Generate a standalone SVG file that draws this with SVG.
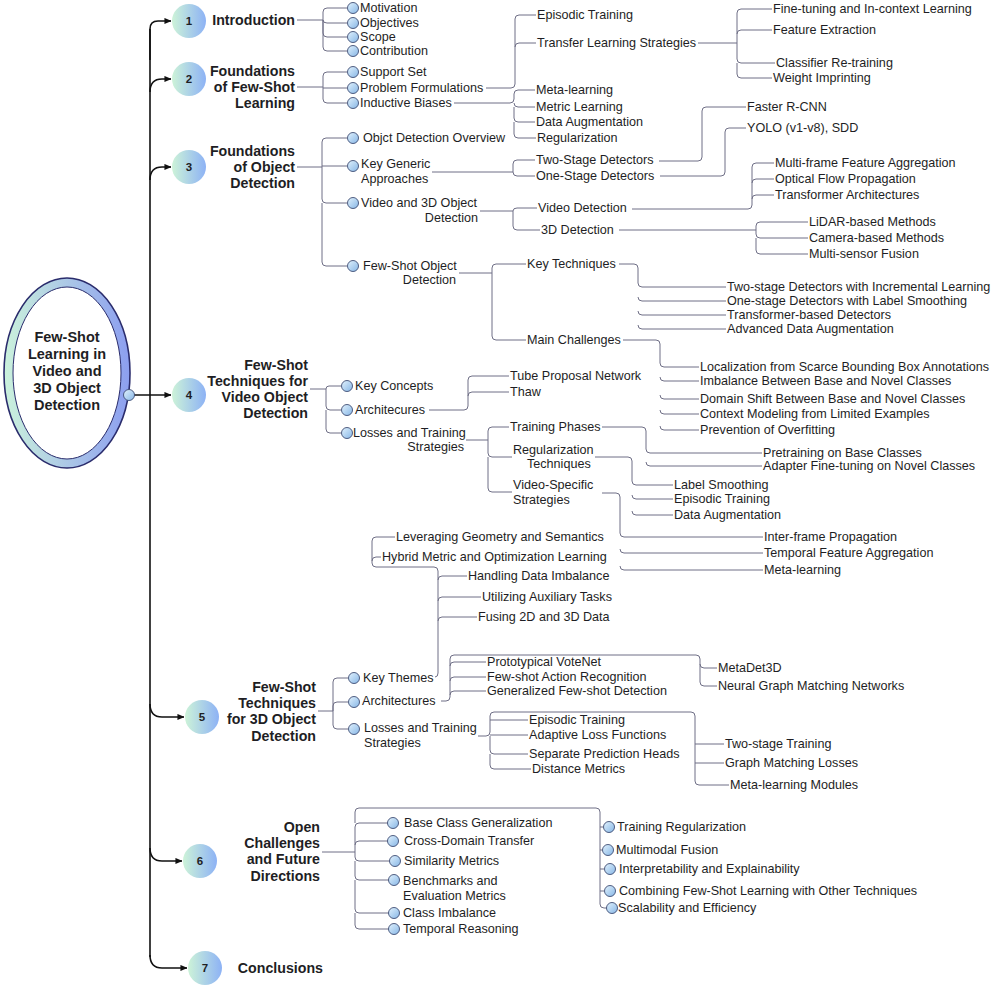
<svg xmlns="http://www.w3.org/2000/svg" width="1000" height="1000" viewBox="0 0 1000 1000">
<defs>
<linearGradient id="numG" x1="0" y1="0" x2="1" y2="0"><stop offset="0" stop-color="#cdf3d8"/><stop offset="1" stop-color="#8db2f5"/></linearGradient>
<linearGradient id="ringG" x1="0" y1="0" x2="1" y2="0"><stop offset="0" stop-color="#cbf2dc"/><stop offset="1" stop-color="#8c9ef0"/></linearGradient>
<linearGradient id="nodeG" x1="0" y1="0" x2="1" y2="1"><stop offset="0" stop-color="#e2f2fd"/><stop offset="1" stop-color="#86b6e6"/></linearGradient>
<marker id="ar" viewBox="0 0 8 8" refX="7.5" refY="4" markerUnits="userSpaceOnUse" markerWidth="7" markerHeight="7" orient="auto"><path d="M0 0.5 L8 4 L0 7.5 z" fill="#111"/></marker>
</defs>
<style>
text{font-family:"Liberation Sans",Arial,sans-serif;fill:#1e1e24;dominant-baseline:central}
.t{font-size:12.6px}
.h{font-size:14.2px;font-weight:bold;text-anchor:end}
.r{font-size:14.5px;font-weight:bold;text-anchor:middle}
.e{text-anchor:end}
.num{font-size:11.5px;font-weight:bold;text-anchor:middle}
.c{fill:none;stroke:#6f6f86;stroke-width:1}
.m{fill:none;stroke:#111;stroke-width:1.6}
.n{fill:url(#nodeG);stroke:#3e4d74;stroke-width:0.9}
.k{fill:url(#numG)}
</style>
<rect width="1000" height="1000" fill="#fff"/>

<g id="root">
<ellipse cx="67" cy="373" rx="63" ry="95" fill="url(#ringG)" stroke="#2a2c6c" stroke-width="1.6"/>
<ellipse cx="67" cy="373" rx="54" ry="86" fill="#fff" stroke="#2a2c6c" stroke-width="1"/>
<text class="r" x="67" y="337">Few-Shot</text>
<text class="r" x="67" y="354">Learning in</text>
<text class="r" x="67" y="371">Video and</text>
<text class="r" x="67" y="388">3D Object</text>
<text class="r" x="67" y="405">Detection</text>
</g>

<g id="main-connectors">
<path class="m" d="M150 60 V29 Q150 21 158 21 H171" marker-end="url(#ar)"/>
<path class="m" d="M150 92 Q150 79 162 79 H171" marker-end="url(#ar)"/>
<path class="m" d="M150 180 Q150 167 162 167 H171" marker-end="url(#ar)"/>
<path class="m" d="M129 395 H171" marker-end="url(#ar)"/>
<path class="m" d="M150 704 Q150 717 162 717 H184" marker-end="url(#ar)"/>
<path class="m" d="M150 848 Q150 861 162 861 H182" marker-end="url(#ar)"/>
<path class="m" d="M150 955 Q150 968 162 968 H187" marker-end="url(#ar)"/>
<path class="m" d="M150 29 V957"/>
</g>
<circle cx="129" cy="395" r="5.5" class="n"/>

<g id="connectors">
<path class="c" d="M297 20 H323 V12 Q323 8 327 8 H347"/>
<path class="c" d="M323 20 Q323 23 327 23 H347"/>
<path class="c" d="M323 20 V33 Q323 37 327 37 H347"/>
<path class="c" d="M323 20 V47 Q323 51 327 51 H347"/>
<path class="c" d="M297 87 H323 V76 Q323 72 327 72 H347"/>
<path class="c" d="M323 88 H347"/>
<path class="c" d="M323 87 V99 Q323 103 327 103 H347"/>
<path class="c" d="M486 88 H511 Q515 88 515 84 V19 Q515 15 519 15 H536"/>
<path class="c" d="M515 47 Q515 43 519 43 H536"/>
<path class="c" d="M454 103 H510 Q514 103 514 99 V94 Q514 90 518 90 H535"/>
<path class="c" d="M514 103 Q514 107 518 107 H535"/>
<path class="c" d="M514 107 V118 Q514 122 518 122 H535"/>
<path class="c" d="M514 122 V134 Q514 138 518 138 H536"/>
<path class="c" d="M698 43 H737 V13 Q737 9 741 9 H772"/>
<path class="c" d="M737 34 Q737 30 741 30 H772"/>
<path class="c" d="M737 43 V59 Q737 63 741 63 H775"/>
<path class="c" d="M737 63 V74 Q737 78 741 78 H772"/>
<path class="c" d="M297 167 H322 V142 Q322 138 326 138 H347"/>
<path class="c" d="M322 166 H347"/>
<path class="c" d="M322 167 V199 Q322 203 326 203 H347"/>
<path class="c" d="M322 203 V262 Q322 266 326 266 H347"/>
<path class="c" d="M432 172 H513 V164 Q513 160 517 160 H535"/>
<path class="c" d="M513 172 Q513 176 517 176 H535"/>
<path class="c" d="M659 161 H698 Q702 161 702 157 V111 Q702 107 706 107 H746"/>
<path class="c" d="M660 176 H721 Q725 176 725 172 V132 Q725 128 729 128 H746"/>
<path class="c" d="M480 211 H513 Q513 208 517 208 H537"/>
<path class="c" d="M513 211 V226 Q513 230 517 230 H540"/>
<path class="c" d="M632 209 H748 Q752 209 752 205 V167 Q752 163 756 163 H774"/>
<path class="c" d="M752 183 Q752 179 756 179 H774"/>
<path class="c" d="M752 199 Q752 195 756 195 H774"/>
<path class="c" d="M619 230 H756 V226 Q756 222 760 222 H808"/>
<path class="c" d="M756 230 V234 Q756 238 760 238 H808"/>
<path class="c" d="M756 238 V250 Q756 254 760 254 H808"/>
<path class="c" d="M459 273 H492 V268 Q492 264 496 264 H526"/>
<path class="c" d="M492 273 V336 Q492 340 496 340 H526"/>
<path class="c" d="M619 264 H634 Q638 264 638 268 V283 Q638 287 642 287 H726"/>
<path class="c" d="M638 297 Q638 301 642 301 H726"/>
<path class="c" d="M638 311 Q638 315 642 315 H726"/>
<path class="c" d="M638 325 Q638 329 642 329 H726"/>
<path class="c" d="M623 340 H656 Q660 340 660 344 V363 Q660 367 664 367 H699"/>
<path class="c" d="M660 377 Q660 381 664 381 H699"/>
<path class="c" d="M660 395 Q660 399 664 399 H699"/>
<path class="c" d="M660 410 Q660 414 664 414 H699"/>
<path class="c" d="M660 426 Q660 430 664 430 H699"/>
<path class="c" d="M310 389 H326 Q326 386 329 386 H341"/>
<path class="c" d="M326 389 V406 Q326 410 330 410 H341"/>
<path class="c" d="M326 410 V429 Q326 433 330 433 H341"/>
<path class="c" d="M429 410 H464 Q468 410 468 406 V380 Q468 376 472 376 H509"/>
<path class="c" d="M468 396 Q468 392 472 392 H509"/>
<path class="c" d="M466 440 H488 V431 Q488 427 492 427 H509"/>
<path class="c" d="M488 440 V453 Q488 457 492 457 H512"/>
<path class="c" d="M488 457 V488 Q488 492 492 492 H512"/>
<path class="c" d="M602 427 H642 Q646 427 646 431 V449 Q646 453 650 453 H762"/>
<path class="c" d="M646 462 Q646 466 650 466 H762"/>
<path class="c" d="M595 457 H628 Q632 457 632 461 V481 Q632 485 636 485 H673"/>
<path class="c" d="M632 495 Q632 499 636 499 H673"/>
<path class="c" d="M632 511 Q632 515 636 515 H673"/>
<path class="c" d="M602 493 H616 Q620 493 620 497 V533 Q620 537 624 537 H763"/>
<path class="c" d="M620 549 Q620 553 624 553 H763"/>
<path class="c" d="M620 566 Q620 570 624 570 H763"/>
<path class="c" d="M318 711 H333"/>
<path class="c" d="M333 711 V682 Q333 678 337 678 H348"/>
<path class="c" d="M333 711 V706 Q333 702 337 702 H348"/>
<path class="c" d="M333 711 V725 Q333 729 337 729 H348"/>
<path class="c" d="M435 677 Q438 677 438 673 V571 Q438 567 434 567 H376 Q372 567 372 563 V541 Q372 537 376 537 H395"/>
<path class="c" d="M372 561 Q372 557 376 557 H381"/>
<path class="c" d="M438 580 Q438 576 442 576 H467"/>
<path class="c" d="M438 601 Q438 597 442 597 H481"/>
<path class="c" d="M438 621 Q438 617 442 617 H477"/>
<path class="c" d="M441 701 H446 Q450 701 450 697 V659 Q450 655 454 655 H696 Q700 655 700 659 V682 Q700 686 704 686 H717"/>
<path class="c" d="M450 666 Q450 662 454 662 H486"/>
<path class="c" d="M450 681 Q450 677 454 677 H486"/>
<path class="c" d="M450 695 Q450 691 454 691 H486"/>
<path class="c" d="M700 664 Q700 668 704 668 H717"/>
<path class="c" d="M478 736 H486 Q490 736 490 732 V716 Q490 712 494 712 H691 Q695 712 695 716 V781 Q695 785 699 785 H729"/>
<path class="c" d="M490 720 H528"/>
<path class="c" d="M490 735 H528"/>
<path class="c" d="M490 736 V750 Q490 754 494 754 H528"/>
<path class="c" d="M490 754 V765 Q490 769 494 769 H531"/>
<path class="c" d="M695 744 H724"/>
<path class="c" d="M695 763 H724"/>
<path class="c" d="M322 852 H355"/>
<path class="c" d="M355 852 V827 Q355 823 359 823 H388"/>
<path class="c" d="M355 845 Q355 841 359 841 H388"/>
<path class="c" d="M355 852 V857 Q355 861 359 861 H390"/>
<path class="c" d="M355 861 V876 Q355 880 359 880 H389"/>
<path class="c" d="M355 880 V909 Q355 913 359 913 H389"/>
<path class="c" d="M355 913 V925 Q355 929 359 929 H389"/>
<path class="c" d="M355 823 V812 Q355 808 359 808 H596 Q600 808 600 812 V904 Q600 908 604 908 H607"/>
<path class="c" d="M600 827 H603"/>
<path class="c" d="M600 850 H602"/>
<path class="c" d="M600 869 H604"/>
<path class="c" d="M600 891 H604"/>
</g>

<g id="s1"><circle class="k" cx="189" cy="21" r="17"/><text class="num" x="189" y="21">1</text><text class="h" x="295" y="20">Introduction</text></g>
<g id="s2"><circle class="k" cx="189" cy="79" r="17"/><text class="num" x="189" y="79">2</text><text class="h" x="295" y="71">Foundations</text><text class="h" x="295" y="87">of Few-Shot</text><text class="h" x="295" y="103">Learning</text></g>
<g id="s3"><circle class="k" cx="189" cy="167" r="17"/><text class="num" x="189" y="167">3</text><text class="h" x="295" y="151">Foundations</text><text class="h" x="295" y="167">of Object</text><text class="h" x="295" y="183">Detection</text></g>
<g id="s4"><circle class="k" cx="189" cy="395" r="17"/><text class="num" x="189" y="395">4</text><text class="h" x="308" y="365">Few-Shot</text><text class="h" x="308" y="381">Techniques for</text><text class="h" x="308" y="397">Video Object</text><text class="h" x="308" y="413">Detection</text></g>
<g id="s5"><circle class="k" cx="202" cy="717" r="17"/><text class="num" x="202" y="717">5</text><text class="h" x="316" y="687">Few-Shot</text><text class="h" x="316" y="703">Techniques</text><text class="h" x="316" y="719">for 3D Object</text><text class="h" x="316" y="736">Detection</text></g>
<g id="s6"><circle class="k" cx="200" cy="861" r="17"/><text class="num" x="200" y="861">6</text><text class="h" x="320" y="827">Open</text><text class="h" x="320" y="843">Challenges</text><text class="h" x="320" y="859">and Future</text><text class="h" x="320" y="876">Directions</text></g>
<g id="s7"><circle class="k" cx="205" cy="968" r="17"/><text class="num" x="205" y="968">7</text><text class="h" x="323" y="968">Conclusions</text></g>

<g id="n-motivation"><circle class="n" cx="353" cy="8" r="5.5"/><text class="t" x="360" y="8">Motivation</text></g>
<g id="n-objectives"><circle class="n" cx="353" cy="23" r="5.5"/><text class="t" x="360" y="23">Objectives</text></g>
<g id="n-scope"><circle class="n" cx="353" cy="37" r="5.5"/><text class="t" x="360" y="37">Scope</text></g>
<g id="n-contribution"><circle class="n" cx="353" cy="51" r="5.5"/><text class="t" x="360" y="51">Contribution</text></g>

<g id="n-support"><circle class="n" cx="353" cy="72" r="5.5"/><text class="t" x="360" y="72">Support Set</text></g>
<g id="n-problem"><circle class="n" cx="353" cy="88" r="5.5"/><text class="t" x="360" y="88">Problem Formulations</text></g>
<g id="n-inductive"><circle class="n" cx="353" cy="103" r="5.5"/><text class="t" x="360" y="103">Inductive Biases</text></g>
<g id="n-episodic1"><text class="t" x="537" y="15">Episodic Training</text></g>
<g id="n-transfer"><text class="t" x="537" y="43">Transfer Learning Strategies</text></g>
<g id="n-metalearn1"><text class="t" x="536" y="90">Meta-learning</text></g>
<g id="n-metric"><text class="t" x="536" y="107">Metric Learning</text></g>
<g id="n-dataaug1"><text class="t" x="536" y="122">Data Augmentation</text></g>
<g id="n-regul1"><text class="t" x="537" y="138">Regularization</text></g>
<g id="n-finetune"><text class="t" x="773" y="9">Fine-tuning and In-context Learning</text></g>
<g id="n-featext"><text class="t" x="773" y="30">Feature Extraction</text></g>
<g id="n-classifier"><text class="t" x="776" y="63">Classifier Re-training</text></g>
<g id="n-weight"><text class="t" x="773" y="78">Weight Imprinting</text></g>

<g id="n-odo"><circle class="n" cx="353" cy="138" r="5.5"/><text class="t" x="363" y="138">Objct Detection Overview</text></g>
<g id="n-kga"><circle class="n" cx="353" cy="166" r="5.5"/><text class="t" x="361" y="164">Key Generic</text><text class="t" x="361" y="179">Approaches</text></g>
<g id="n-v3d"><circle class="n" cx="353" cy="203" r="5.5"/><text class="t" x="361" y="203">Video and 3D Object</text><text class="t e" x="478" y="218">Detection</text></g>
<g id="n-fsod"><circle class="n" cx="353" cy="266" r="5.5"/><text class="t" x="363" y="266">Few-Shot Object</text><text class="t e" x="456" y="280">Detection</text></g>
<g id="n-twostage"><text class="t" x="536" y="160">Two-Stage Detectors</text></g>
<g id="n-onestage"><text class="t" x="536" y="176">One-Stage Detectors</text></g>
<g id="n-frcnn"><text class="t" x="747" y="107">Faster R-CNN</text></g>
<g id="n-yolo"><text class="t" x="747" y="128">YOLO (v1-v8), SDD</text></g>
<g id="n-videodet"><text class="t" x="538" y="208">Video Detection</text></g>
<g id="n-3ddet"><text class="t" x="541" y="230">3D Detection</text></g>
<g id="n-mffa"><text class="t" x="775" y="163">Multi-frame Feature Aggregation</text></g>
<g id="n-ofp"><text class="t" x="775" y="179">Optical Flow Propagation</text></g>
<g id="n-ta"><text class="t" x="775" y="195">Transformer Architectures</text></g>
<g id="n-lidar"><text class="t" x="809" y="222">LiDAR-based Methods</text></g>
<g id="n-camera"><text class="t" x="809" y="238">Camera-based Methods</text></g>
<g id="n-msf"><text class="t" x="809" y="254">Multi-sensor Fusion</text></g>
<g id="n-keytech"><text class="t" x="527" y="264">Key Techniques</text></g>
<g id="n-mainch"><text class="t" x="527" y="340">Main Challenges</text></g>
<g id="n-kt1"><text class="t" x="727" y="287">Two-stage Detectors with Incremental Learning</text></g>
<g id="n-kt2"><text class="t" x="727" y="301">One-stage Detectors with Label Smoothing</text></g>
<g id="n-kt3"><text class="t" x="727" y="315">Transformer-based Detectors</text></g>
<g id="n-kt4"><text class="t" x="727" y="329">Advanced Data Augmentation</text></g>
<g id="n-mc1"><text class="t" x="700" y="367">Localization from Scarce Bounding Box Annotations</text></g>
<g id="n-mc2"><text class="t" x="700" y="381">Imbalance Between Base and Novel Classes</text></g>
<g id="n-mc3"><text class="t" x="700" y="399">Domain Shift Between Base and Novel Classes</text></g>
<g id="n-mc4"><text class="t" x="700" y="414">Context Modeling from Limited Examples</text></g>
<g id="n-mc5"><text class="t" x="700" y="430">Prevention of Overfitting</text></g>

<g id="n-keyconcepts"><circle class="n" cx="347" cy="386" r="5.5"/><text class="t" x="355" y="386">Key Concepts</text></g>
<g id="n-arch4"><circle class="n" cx="347" cy="410" r="5.5"/><text class="t" x="355" y="410">Architecures</text></g>
<g id="n-loss4"><circle class="n" cx="347" cy="433" r="5.5"/><text class="t" x="353" y="433">Losses and Training</text><text class="t e" x="464" y="447">Strategies</text></g>
<g id="n-tpn"><text class="t" x="510" y="376">Tube Proposal Network</text></g>
<g id="n-thaw"><text class="t" x="510" y="392">Thaw</text></g>
<g id="n-trainph"><text class="t" x="510" y="427">Training Phases</text></g>
<g id="n-regtech"><text class="t" x="513" y="450">Regularization</text><text class="t" x="527" y="464">Techniques</text></g>
<g id="n-vss"><text class="t" x="513" y="485">Video-Specific</text><text class="t" x="513" y="500">Strategies</text></g>
<g id="n-pretrain"><text class="t" x="763" y="453">Pretraining on Base Classes</text></g>
<g id="n-adapter"><text class="t" x="763" y="466">Adapter Fine-tuning on Novel Classes</text></g>
<g id="n-labelsm"><text class="t" x="674" y="485">Label Smoothing</text></g>
<g id="n-episodic4"><text class="t" x="674" y="499">Episodic Training</text></g>
<g id="n-dataaug4"><text class="t" x="674" y="515">Data Augmentation</text></g>
<g id="n-interframe"><text class="t" x="764" y="537">Inter-frame Propagation</text></g>
<g id="n-tfa"><text class="t" x="764" y="553">Temporal Feature Aggregation</text></g>
<g id="n-metalearn4"><text class="t" x="764" y="570">Meta-learning</text></g>

<g id="n-keythemes"><circle class="n" cx="354" cy="678" r="5.5"/><text class="t" x="363" y="678">Key Themes</text></g>
<g id="n-arch5"><circle class="n" cx="354" cy="702" r="5.5"/><text class="t" x="362" y="701">Architectures</text></g>
<g id="n-loss5"><circle class="n" cx="354" cy="729" r="5.5"/><text class="t" x="364" y="728">Losses and Training</text><text class="t" x="364" y="743">Strategies</text></g>
<g id="n-lgs"><text class="t" x="396" y="537">Leveraging Geometry and Semantics</text></g>
<g id="n-hmol"><text class="t" x="382" y="557">Hybrid Metric and Optimization Learning</text></g>
<g id="n-hdi"><text class="t" x="468" y="576">Handling Data Imbalance</text></g>
<g id="n-uat"><text class="t" x="482" y="597">Utilizing Auxiliary Tasks</text></g>
<g id="n-f23"><text class="t" x="478" y="617">Fusing 2D and 3D Data</text></g>
<g id="n-pvn"><text class="t" x="487" y="662">Prototypical VoteNet</text></g>
<g id="n-far"><text class="t" x="487" y="677">Few-shot Action Recognition</text></g>
<g id="n-gfd"><text class="t" x="487" y="691">Generalized Few-shot Detection</text></g>
<g id="n-metadet"><text class="t" x="718" y="668">MetaDet3D</text></g>
<g id="n-ngmn"><text class="t" x="718" y="686">Neural Graph Matching Networks</text></g>
<g id="n-episodic5"><text class="t" x="529" y="720">Episodic Training</text></g>
<g id="n-alf"><text class="t" x="529" y="735">Adaptive Loss Functions</text></g>
<g id="n-sph"><text class="t" x="529" y="754">Separate Prediction Heads</text></g>
<g id="n-dm"><text class="t" x="532" y="769">Distance Metrics</text></g>
<g id="n-tst"><text class="t" x="725" y="744">Two-stage Training</text></g>
<g id="n-gml"><text class="t" x="725" y="763">Graph Matching Losses</text></g>
<g id="n-mlm"><text class="t" x="730" y="785">Meta-learning Modules</text></g>

<g id="n-bcg"><circle class="n" cx="393" cy="823" r="5.5"/><text class="t" x="404" y="823">Base Class Generalization</text></g>
<g id="n-cdt"><circle class="n" cx="393" cy="841" r="5.5"/><text class="t" x="404" y="841">Cross-Domain Transfer</text></g>
<g id="n-sim"><circle class="n" cx="395" cy="861" r="5.5"/><text class="t" x="404" y="861">Similarity Metrics</text></g>
<g id="n-bem"><circle class="n" cx="394" cy="880" r="5.5"/><text class="t" x="403" y="881">Benchmarks and</text><text class="t" x="403" y="896">Evaluation Metrics</text></g>
<g id="n-ci"><circle class="n" cx="394" cy="913" r="5.5"/><text class="t" x="403" y="913">Class Imbalance</text></g>
<g id="n-tr"><circle class="n" cx="394" cy="929" r="5.5"/><text class="t" x="403" y="929">Temporal Reasoning</text></g>
<g id="n-treg"><circle class="n" cx="609" cy="827" r="5.5"/><text class="t" x="617" y="827">Training Regularization</text></g>
<g id="n-mmf"><circle class="n" cx="608" cy="850" r="5.5"/><text class="t" x="616" y="850">Multimodal Fusion</text></g>
<g id="n-ie"><circle class="n" cx="610" cy="869" r="5.5"/><text class="t" x="619" y="869">Interpretability and Explainability</text></g>
<g id="n-cfsl"><circle class="n" cx="610" cy="891" r="5.5"/><text class="t" x="619" y="891">Combining Few-Shot Learning with Other Techniques</text></g>
<g id="n-se"><circle class="n" cx="612" cy="908" r="5.5"/><text class="t" x="618" y="908">Scalability and Efficiency</text></g>
</svg>
